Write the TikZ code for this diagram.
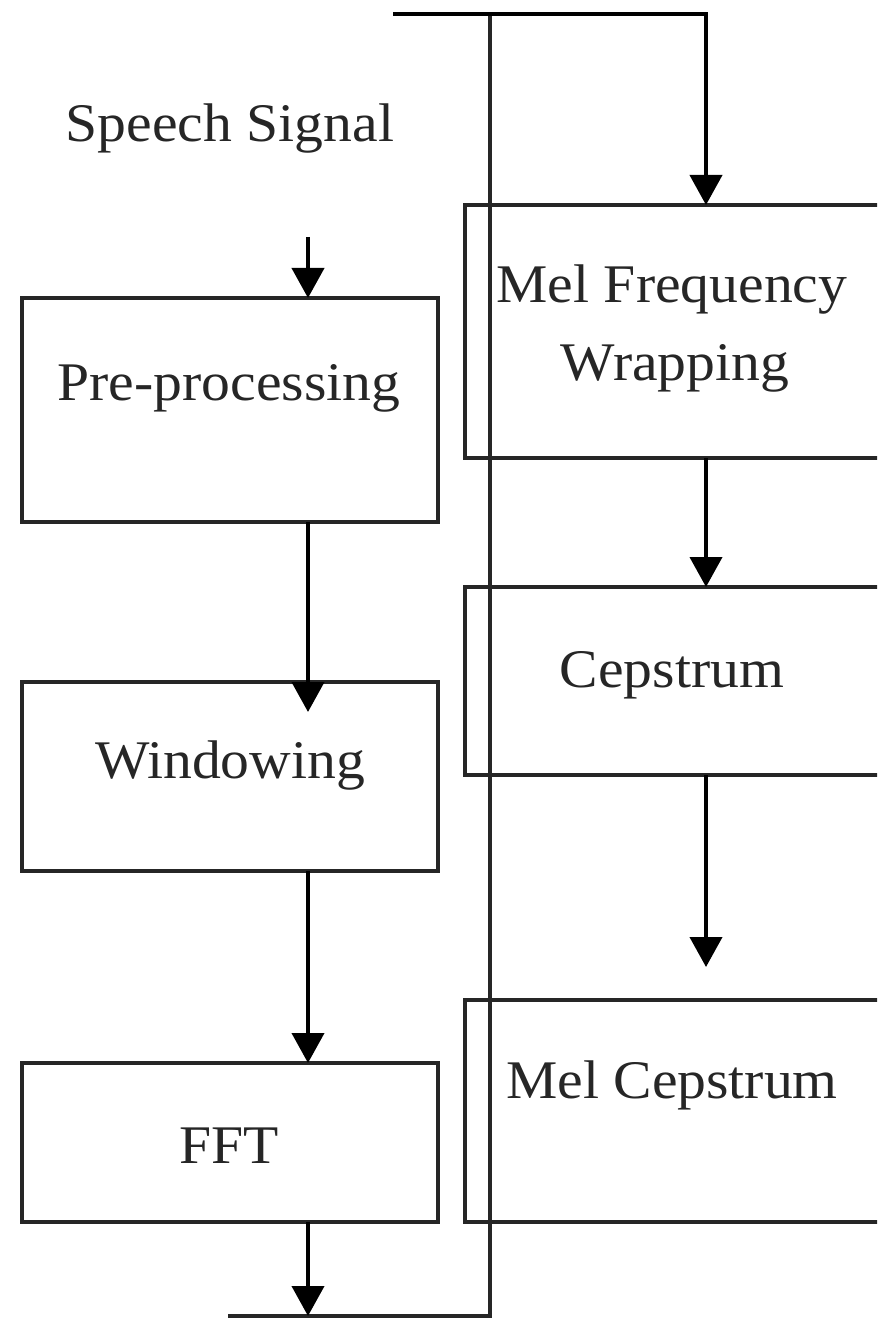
\documentclass[tikz,border=0pt]{standalone}
\usepackage{fontspec}
\setmainfont{Liberation Serif}[FakeStretch=1.06]
\usetikzlibrary{arrows.meta,calc}
\tikzset{
  box/.style={draw=black!85, line width=2.3pt, rectangle, anchor=north west, inner sep=0pt, outer sep=0pt},
  leftbox/.style={box, minimum width=312pt},
  rightbox/.style={box, minimum width=320pt},
  lbl/.style={anchor=base, inner sep=0pt, outer sep=0pt, text=black!85, font=\fontsize{40.8pt}{56pt}\selectfont},
  arr/.style={line width=3pt, black, -{Triangle[width=24pt,length=22.5pt]}},
  wire/.style={line width=2.4pt, black!85}
}
\begin{document}
\begin{tikzpicture}[x=0.75pt,y=-0.75pt]
\useasboundingbox (0,0) rectangle (877,1319);
\clip (0,0) rectangle (877,1319);
% helper coordinates
\coordinate (ax) at (308,0);
\coordinate (bx) at (706,0);
\coordinate (sstart) at (308,237);
\coordinate (t0) at (393,14);
\coordinate (t1) at (706,14);
\coordinate (v0) at (490,14);
\coordinate (b1) at (490,1316);
\coordinate (b0) at (228,1316);
\coordinate (b2) at (308,1316);
% left boxes
\node[leftbox, minimum height=168pt] (pre) at (22,298) {};
\node[leftbox, minimum height=141.75pt] (win) at (22,682) {};
\node[leftbox, minimum height=119.25pt] (fft) at (22,1063) {};
% right boxes
\node[rightbox, minimum height=189.75pt] (mel) at (465,205) {};
\node[rightbox, minimum height=141pt] (cep) at (465,587) {};
\node[rightbox, minimum height=166.5pt] (mcep) at (465,1000) {};
% labels
\node[lbl] (speech) at (230,142) {Speech Signal};
\node[lbl] (pretext) at (229,400) {Pre-processing};
\node[lbl] (wintext) at (230,778) {Windowing};
\node[lbl] (ffttext) at (229,1163) {FFT};
\node[lbl] (meltext1) at (672,303) {Mel Frequency};
\node[lbl] (meltext2) at (675,380) {Wrapping};
\node[lbl] (ceptext) at (672,687) {Cepstrum};
\node[lbl] (mceptext) at (672,1098) {Mel Cepstrum};
% connectors
\draw[wire] (v0) -- (b1) -- (b0);
\draw[arr] (t0) -- (t1) -- (mel.north -| bx);
\draw[arr] (sstart) -- (pre.north -| ax);
\draw[arr] (pre.south -| ax) -- ($(win.north -| ax)+(0,30)$);
\draw[arr] (win.south -| ax) -- (fft.north -| ax);
\draw[arr] (fft.south -| ax) -- (b2);
\draw[arr] (mel.south -| bx) -- (cep.north -| bx);
\draw[arr] (cep.south -| bx) -- ($(mcep.north -| bx)+(0,-33)$);
\end{tikzpicture}
\end{document}
